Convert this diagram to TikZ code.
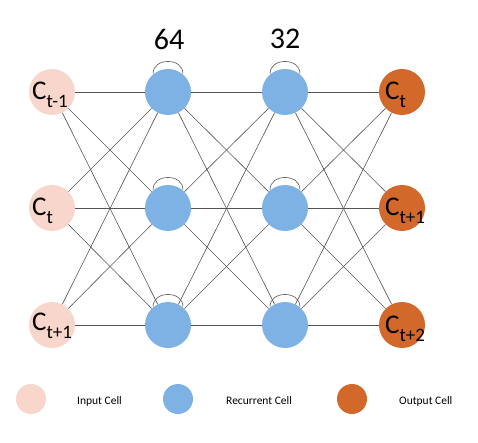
\documentclass[tikz,border=0pt]{standalone}
\usepackage{fontspec}
\setmainfont{Carlito}
\definecolor{incol}{HTML}{F8D6CB}
\definecolor{reccol}{HTML}{7FB2E4}
\definecolor{outcol}{HTML}{D2692B}
\definecolor{edgecol}{HTML}{555555}
\newcommand\mycsub[1]{C\raisebox{-8pt}{\fontsize{19}{19}\selectfont #1}}
\begin{document}
\begin{tikzpicture}[x=1pt,y=-1pt,
  cell/.style={circle,minimum size=46pt,inner sep=0pt,draw=none},
  incell/.style={cell,fill=incol},
  reccell/.style={cell,fill=reccol},
  outcell/.style={cell,fill=outcol},
  legcell/.style={circle,minimum size=30pt,inner sep=0pt,draw=none},
  clabel/.style={anchor=base west,inner sep=0pt,font=\fontsize{27}{27}\selectfont},
  toplabel/.style={inner sep=0pt,font=\fontsize{30}{30}\selectfont},
  leglabel/.style={anchor=base west,inner sep=0pt,font=\fontsize{11.5}{12}\selectfont},
  edge/.style={draw=edgecol,line width=0.6pt},
  selfloop/.style={draw=edgecol,line width=0.6pt}]
\useasboundingbox (0,0) rectangle (478,443);

% cells
\node[incell] (i1) at (52,92) {};
\node[incell] (i2) at (52,208) {};
\node[incell] (i3) at (52,325) {};
\node[reccell] (a1) at (168,92) {};
\node[reccell] (a2) at (168,208) {};
\node[reccell] (a3) at (168,325) {};
\node[reccell] (b1) at (285,92) {};
\node[reccell] (b2) at (285,208) {};
\node[reccell] (b3) at (285,325) {};
\node[outcell] (o1) at (402,92) {};
\node[outcell] (o2) at (402,208) {};
\node[outcell] (o3) at (402,325) {};

% edges
\foreach \s in {i1,i2,i3}{\foreach \t in {a1,a2,a3}{\draw[edge] (\s) -- (\t);}}
\foreach \s in {a1,a2,a3}{\foreach \t in {b1,b2,b3}{\draw[edge] (\s) -- (\t);}}
\foreach \s in {b1,b2,b3}{\foreach \t in {o1,o2,o3}{\draw[edge] (\s) -- (\t);}}

% self loops
\foreach \n in {a1,a2,a3,b1,b2,b3}{
  \draw[selfloop] (\n.130) .. controls +(-1,-17) and +(1,-17) .. (\n.50);}

% labels
\node[clabel] (li1) at (32,100) {\mycsub{t-1}};
\node[clabel] (li2) at (32,216) {\mycsub{t}};
\node[clabel] (li3) at (32,330) {\mycsub{t+1}};
\node[clabel] (lo1) at (385,100) {\mycsub{t}};
\node[clabel] (lo2) at (385,216) {\mycsub{t+1}};
\node[clabel] (lo3) at (385,333) {\mycsub{t+2}};
\node[toplabel] (n64) at (169,39) {64};
\node[toplabel] (n32) at (285,39) {32};

% legend
\node[legcell,fill=incol] (gi) at (31,399) {};
\node[legcell,fill=reccol] (gr) at (178,399) {};
\node[legcell,fill=outcol] (go) at (352,399) {};
\node[leglabel] (ti) at (77,404) {Input Cell};
\node[leglabel] (tr) at (226,404) {Recurrent Cell};
\node[leglabel] (to) at (399,404) {Output Cell};
\end{tikzpicture}
\end{document}
